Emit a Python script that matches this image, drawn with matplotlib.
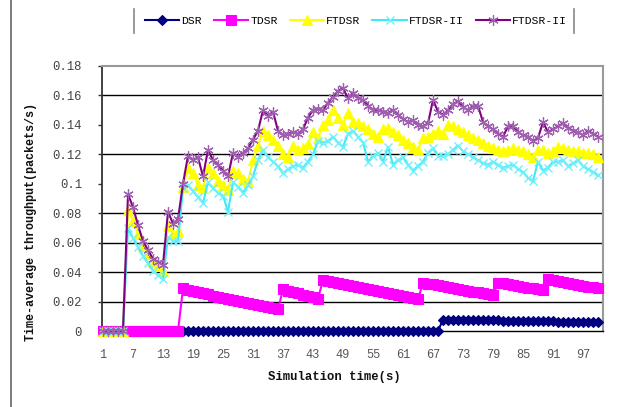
import matplotlib
matplotlib.use("Agg")
import matplotlib.pyplot as plt
from matplotlib.lines import Line2D

# Simulation time steps (s)
t = list(range(1, 101))

dsr = [
    0, 0, 0, 0, 0, 0, 0, 0, 0, 0,
    0, 0, 0, 0, 0, 0, 0, 0, 0, 0,
    0, 0, 0, 0, 0, 0, 0, 0, 0, 0,
    0, 0, 0, 0, 0, 0, 0, 0, 0, 0,
    0, 0, 0, 0, 0, 0, 0, 0, 0, 0,
    0, 0, 0, 0, 0, 0, 0, 0, 0, 0,
    0, 0, 0, 0, 0, 0, 0, 0,
    0.0078, 0.0077, 0.0077, 0.0076, 0.0076, 0.0075, 0.0075, 0.0074, 0.0073, 0.0073,
    0.0072, 0.0072, 0.0071, 0.0070, 0.0070, 0.0069, 0.0069, 0.0068, 0.0067, 0.0067,
    0.0066, 0.0066, 0.0065, 0.0064, 0.0064, 0.0063, 0.0063, 0.0062, 0.0061, 0.0061,
    0.0060, 0.0059,
]

tdsr = [
    0, 0, 0, 0, 0, 0, 0, 0, 0, 0,
    0, 0, 0, 0, 0, 0,
    0.0290, 0.0281, 0.0273, 0.0264, 0.0256, 0.0248, 0.0240, 0.0232, 0.0225, 0.0217,
    0.0210, 0.0203, 0.0196, 0.0189, 0.0182, 0.0175, 0.0168, 0.0161, 0.0154, 0.0147,
    0.0283, 0.0274, 0.0265, 0.0256, 0.0247, 0.0238, 0.0229, 0.0220,
    0.0346, 0.0339, 0.0332, 0.0325, 0.0318, 0.0311, 0.0304, 0.0297, 0.0291, 0.0284,
    0.0277, 0.0270, 0.0263, 0.0256, 0.0249, 0.0242, 0.0235, 0.0229, 0.0222, 0.0215,
    0.0328, 0.0322, 0.0316, 0.0310, 0.0304, 0.0298, 0.0292, 0.0286, 0.0280, 0.0274,
    0.0268, 0.0262, 0.0256, 0.0251, 0.0245,
    0.0328, 0.0323, 0.0317, 0.0312, 0.0306, 0.0301, 0.0295, 0.0290, 0.0284, 0.0279,
    0.0352, 0.0346, 0.0340, 0.0333, 0.0327, 0.0321, 0.0315, 0.0309, 0.0302, 0.0296,
    0.0290,
]

ftdsr = [
    0, 0, 0, 0, 0, 0.082, 0.075, 0.066, 0.058, 0.052,
    0.047, 0.044, 0.041, 0.071, 0.066, 0.068, 0.098, 0.111, 0.107, 0.099,
    0.097, 0.111, 0.107, 0.102, 0.099, 0.096, 0.109, 0.107, 0.103, 0.101,
    0.116, 0.126, 0.136, 0.133, 0.130, 0.126, 0.120, 0.118, 0.126, 0.123,
    0.124, 0.127, 0.135, 0.131, 0.140, 0.143, 0.150, 0.145, 0.140, 0.148,
    0.142, 0.141, 0.139, 0.137, 0.134, 0.132, 0.137, 0.138, 0.135, 0.133,
    0.130, 0.128, 0.125, 0.123, 0.131, 0.132, 0.134, 0.136, 0.134, 0.140,
    0.139, 0.137, 0.135, 0.133, 0.131, 0.130, 0.128, 0.126, 0.124, 0.123,
    0.122, 0.123, 0.124, 0.123, 0.122, 0.120, 0.118, 0.123, 0.123, 0.121,
    0.122, 0.125, 0.124, 0.123, 0.122, 0.122, 0.121, 0.121, 0.120, 0.118,
]

ftdsr_ii_a = [
    0, 0, 0, 0, 0, 0.070, 0.063, 0.057, 0.051, 0.046,
    0.041, 0.038, 0.035, 0.064, 0.061, 0.061, 0.097, 0.099, 0.095, 0.091,
    0.087, 0.101, 0.097, 0.094, 0.092, 0.081, 0.101, 0.098, 0.094, 0.099,
    0.105, 0.116, 0.123, 0.118, 0.115, 0.112, 0.107, 0.110, 0.112, 0.113,
    0.111, 0.115, 0.120, 0.129, 0.128, 0.129, 0.132, 0.128, 0.125, 0.134,
    0.136, 0.132, 0.128, 0.115, 0.119, 0.121, 0.115, 0.125, 0.113, 0.116,
    0.118, 0.113, 0.109, 0.112, 0.115, 0.121, 0.124, 0.119, 0.119, 0.120,
    0.123, 0.126, 0.122, 0.120, 0.118, 0.116, 0.114, 0.113, 0.115, 0.113,
    0.111, 0.112, 0.113, 0.110, 0.108, 0.104, 0.102, 0.115, 0.109, 0.111,
    0.115, 0.115, 0.116, 0.112, 0.114, 0.116, 0.112, 0.110, 0.108, 0.106,
]

ftdsr_ii_b = [
    0, 0, 0, 0, 0, 0.093, 0.084, 0.072, 0.061, 0.055,
    0.049, 0.047, 0.045, 0.081, 0.073, 0.076, 0.100, 0.119, 0.116, 0.118,
    0.105, 0.123, 0.116, 0.113, 0.109, 0.105, 0.121, 0.118, 0.121, 0.124,
    0.130, 0.136, 0.150, 0.146, 0.149, 0.136, 0.133, 0.134, 0.135, 0.134,
    0.137, 0.145, 0.150, 0.151, 0.150, 0.155, 0.159, 0.163, 0.165, 0.158,
    0.162, 0.158, 0.157, 0.153, 0.150, 0.150, 0.149, 0.148, 0.150, 0.147,
    0.144, 0.142, 0.143, 0.140, 0.139, 0.141, 0.157, 0.149, 0.147, 0.150,
    0.154, 0.156, 0.152, 0.150, 0.153, 0.153, 0.142, 0.139, 0.137, 0.134,
    0.132, 0.139, 0.139, 0.135, 0.133, 0.132, 0.129, 0.131, 0.142, 0.135,
    0.137, 0.139, 0.141, 0.138, 0.136, 0.135, 0.133, 0.136, 0.134, 0.132,
]

series_names = ["DSR", "TDSR", "FTDSR", "FTDSR-II", "FTDSR-II"]
y_ticks = [0, 0.02, 0.04, 0.06, 0.08, 0.1, 0.12, 0.14, 0.16, 0.18]
y_tick_labels = ["0", "0.02", "0.04", "0.06", "0.08", "0.1", "0.12", "0.14", "0.16", "0.18"]
x_ticks = [1, 7, 13, 19, 25, 31, 37, 43, 49, 55, 61, 67, 73, 79, 85, 91, 97]
grid_levels = [0.02, 0.04, 0.06, 0.08, 0.12, 0.16]

W, H = 622, 407
fig = plt.figure(figsize=(W / 100, H / 100), dpi=100)
fig.patch.set_facecolor("white")

left, right, top, bottom = 101.5, 603, 66, 331
ax = fig.add_axes([left / W, 1 - bottom / H, (right - left) / W, (bottom - top) / H])

for g in grid_levels:
    ax.axhline(g, color="black", lw=1.0, zorder=1)

styles = [
    dict(color="#000080", marker="D", ms=5.0, mfc="#000080", mec="#000080", mew=0.8),
    dict(color="#FF00FF", marker="s", ms=6.8, mfc="#FF00FF", mec="#FF00FF", mew=0.8),
    dict(color="#FFFF00", marker="^", ms=7.2, mfc="#FFFF00", mec="#FFFF00", mew=0.8),
    dict(color="#40E8F8", marker="x", ms=6.0, mec="#70F0FC", mew=1.0),
    dict(color="#800080", marker=(6, 2, 0), ms=7.5, mec="#A060B0", mew=0.9),
]
data = [dsr, tdsr, ftdsr, ftdsr_ii_a, ftdsr_ii_b]
handles = []
for vals, name, st in zip(data, series_names, styles):
    h, = ax.plot(t, vals, lw=1.5, label=name, zorder=3, clip_on=False, **st)
    handles.append(h)

ax.set_xlim(0.7, 101)
ax.set_ylim(0, 0.18)

ax.set_yticks(y_ticks)
ax.set_yticklabels(y_tick_labels)
ax.set_xticks(x_ticks)
ax.set_xticklabels([str(v) for v in x_ticks])

mono = "Liberation Mono"
ax.tick_params(axis="y", direction="out", length=3, width=1, color="#333333",
               pad=11, labelsize=8.8, labelcolor="#444444")
ax.tick_params(axis="x", length=0, pad=13, labelsize=8.6, labelcolor="#555555")
for lab in ax.get_yticklabels() + ax.get_xticklabels():
    lab.set_fontfamily(mono)

ax.spines["left"].set_color("#333333")
ax.spines["left"].set_linewidth(1.3)
ax.spines["bottom"].set_color("black")
ax.spines["bottom"].set_linewidth(1.0)
ax.spines["top"].set_color("#999999")
ax.spines["top"].set_linewidth(1.5)
ax.spines["right"].set_color("#999999")
ax.spines["right"].set_linewidth(1.5)

fig.text(334 / W, 1 - 377 / H, "Simulation time(s)", ha="center", va="center",
         fontsize=8.8, fontweight="bold", family=mono, color="#111111")
fig.text(31 / W, 1 - 222 / H, "Time-average throughput(packets/s)", ha="center",
         va="center", rotation=90, fontsize=8.5, fontweight="bold", family=mono,
         color="#111111")

leg = fig.legend(handles=handles, labels=series_names, loc="center",
                 bbox_to_anchor=(356 / W, 1 - 21 / H), ncol=5, frameon=False,
                 prop={"family": mono, "size": 8.2}, handlelength=3.0,
                 handletextpad=0.2, columnspacing=1.05, borderpad=0.2)

# legend side bars and chart-area left border
for xb in (134, 574):
    fig.add_artist(Line2D([xb / W, xb / W], [1 - 9 / H, 1 - 33 / H],
                          color="#888888", lw=1.2))
fig.add_artist(Line2D([10.5 / W, 10.5 / W], [0, 1], color="#666666", lw=1.2))

fig.savefig("out.png", dpi=100, facecolor="white")
